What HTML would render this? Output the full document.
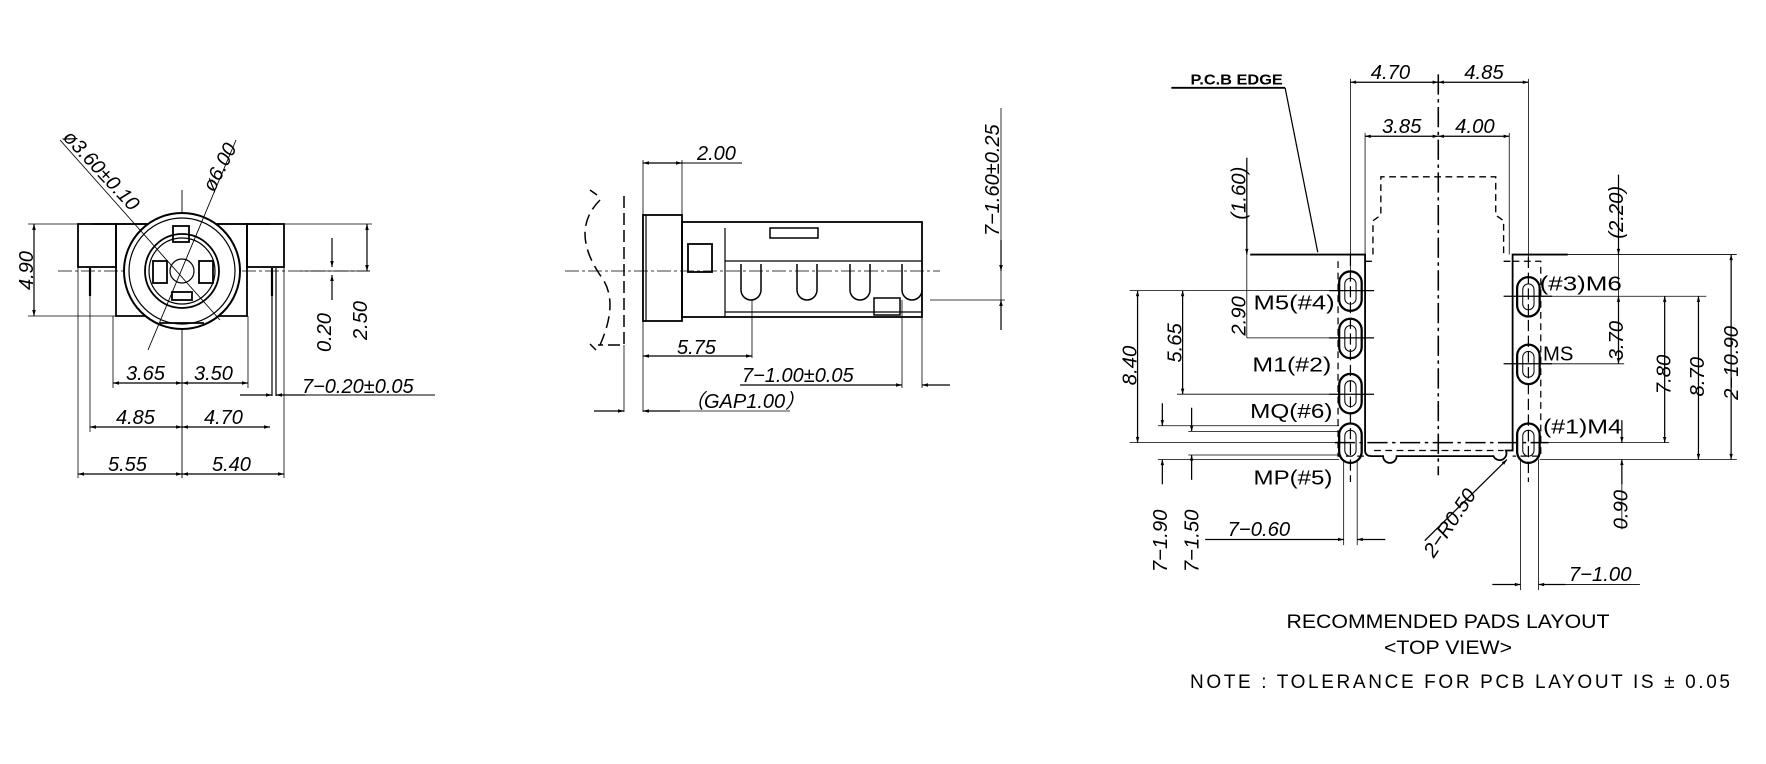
<!DOCTYPE html>
<html><head><meta charset="utf-8"><style>
html,body{margin:0;padding:0;background:#fff}
svg{display:block}
text{font-family:"Liberation Sans",sans-serif;fill:#000}
.d{font-style:italic;font-size:20px}
.l{font-size:20px}
.r{font-style:italic;font-size:18px}
.rl{font-size:18px}
</style></head><body>
<svg width="1766" height="764" viewBox="0 0 1766 764" xmlns="http://www.w3.org/2000/svg">
<defs>
<marker id="a" viewBox="0 0 10 10" refX="10" refY="5" markerWidth="12" markerHeight="6" orient="auto-start-reverse" markerUnits="userSpaceOnUse"><path d="M0,2 L10,5 L0,8 z" fill="#000"/></marker>
<marker id="b" viewBox="0 0 10 10" refX="10" refY="5" markerWidth="11" markerHeight="5" orient="auto-start-reverse" markerUnits="userSpaceOnUse"><path d="M0,2 L10,5 L0,8 z" fill="#000"/></marker>
</defs>
<g stroke="#000" fill="none" stroke-width="1.2">
<!-- ===== LEFT VIEW ===== -->
<line x1="58" y1="271" x2="370" y2="271" stroke-dasharray="14,3,3,3" stroke-width="0.8"/>
<line x1="182" y1="190" x2="182" y2="478" stroke-width="0.9"/>
<rect x="78" y="224" width="38" height="43" stroke-width="1.8"/>
<rect x="247" y="224" width="37" height="43" stroke-width="1.8"/>
<path d="M116,224 L116,316 L247,316 L247,224 Z" stroke-width="1.8"/>
<path d="M93,224 L270,224" stroke-width="1.5"/>
<circle cx="182" cy="271" r="58" stroke-width="2" fill="#fff"/>
<circle cx="182" cy="271" r="53" stroke-width="1.2"/>
<line x1="160" y1="323" x2="204" y2="323" stroke-width="1.8"/>
<circle cx="182" cy="271" r="37" stroke-width="1.8"/>
<circle cx="182" cy="271" r="33" stroke-width="1.2"/>
<circle cx="182" cy="271" r="12" stroke-width="1.2"/>
<rect x="153" y="261" width="14" height="22" stroke-width="1.8"/>
<rect x="199" y="261" width="14" height="22" stroke-width="1.8"/>
<rect x="173" y="226" width="16" height="16" stroke-width="1.8"/>
<rect x="172" y="292" width="20" height="8" stroke-width="1.8"/>
<line x1="90" y1="268" x2="90" y2="296" stroke-width="2.2"/>
<line x1="272" y1="268" x2="272" y2="296" stroke-width="2.2"/>
<line x1="272" y1="296" x2="272" y2="396" stroke-width="1.2"/>
<line x1="276" y1="268" x2="276" y2="396" stroke-width="1.2"/>
<line x1="60" y1="140" x2="220" y2="320" stroke-width="0.9"/>
<line x1="236" y1="140" x2="148" y2="350" stroke-width="0.9"/>
<line x1="34" y1="224" x2="34" y2="316" marker-start="url(#a)" marker-end="url(#a)"/>
<line x1="28" y1="224" x2="78" y2="224" stroke-width="0.8"/>
<line x1="28" y1="316" x2="116" y2="316" stroke-width="0.8"/>
<line x1="284" y1="224" x2="372" y2="224" stroke-width="0.8"/>
<line x1="300" y1="271" x2="370" y2="271" stroke-width="0.8"/>
<line x1="332" y1="238" x2="332" y2="267" marker-end="url(#a)"/>
<line x1="332" y1="275" x2="332" y2="300" marker-start="url(#a)"/>
<line x1="367" y1="224" x2="367" y2="271" marker-start="url(#a)" marker-end="url(#a)"/>
<line x1="113" y1="316" x2="113" y2="388" stroke-width="0.8"/>
<line x1="248" y1="316" x2="248" y2="388" stroke-width="0.8"/>
<line x1="113" y1="383" x2="182" y2="383" marker-start="url(#a)" marker-end="url(#a)"/>
<line x1="182" y1="383" x2="248" y2="383" marker-start="url(#a)" marker-end="url(#a)"/>
<line x1="90" y1="296" x2="90" y2="432" stroke-width="0.8"/>
<line x1="90" y1="427" x2="182" y2="427" marker-start="url(#a)" marker-end="url(#a)"/>
<line x1="182" y1="427" x2="270" y2="427" marker-start="url(#a)" marker-end="url(#a)"/>
<line x1="78" y1="267" x2="78" y2="478" stroke-width="0.8"/>
<line x1="284" y1="267" x2="284" y2="478" stroke-width="0.8"/>
<line x1="78" y1="474" x2="182" y2="474" marker-start="url(#a)" marker-end="url(#a)"/>
<line x1="182" y1="474" x2="284" y2="474" marker-start="url(#a)" marker-end="url(#a)"/>
<line x1="240" y1="395" x2="272" y2="395" marker-end="url(#a)"/>
<line x1="305" y1="395" x2="276" y2="395" marker-end="url(#a)"/>
<line x1="305" y1="395" x2="435" y2="395" stroke-width="0.9"/>

<!-- ===== MIDDLE VIEW ===== -->
<line x1="565" y1="271" x2="940" y2="271" stroke-dasharray="14,3,3,3" stroke-width="0.8"/>
<path d="M590,190 L597,195 M624,196 L624,345 L598,345 M590,344 L596,350" stroke-dasharray="12,5" stroke-width="1.5"/>
<path d="M600,200 Q570,230 600,275 Q620,300 600,345" stroke-dasharray="12,6" stroke-width="1.5"/>
<rect x="643" y="215" width="39" height="106" stroke-width="1.8"/>
<line x1="646" y1="215" x2="646" y2="321"/>
<rect x="682" y="222" width="240" height="95" stroke-width="1.8"/>
<line x1="725" y1="228" x2="725" y2="317"/>
<line x1="725" y1="261" x2="922" y2="261"/>
<line x1="725" y1="312" x2="922" y2="312"/>
<rect x="688" y="244" width="24" height="28" stroke-width="1.8"/>
<rect x="770" y="228" width="48" height="10" stroke-width="1.5"/>
<path d="M741,264 v26 a10,10 0 0 0 20,0 v-26 M797,264 v26 a10,10 0 0 0 20,0 v-26 M850,264 v26 a10,10 0 0 0 20,0 v-26 M902,264 v26 a10,10 0 0 0 20,0" stroke-width="1.5"/>
<rect x="874" y="298" width="26" height="17" stroke-width="1.5"/>
<line x1="643" y1="160" x2="643" y2="412" stroke-width="0.8"/>
<line x1="682" y1="160" x2="682" y2="215" stroke-width="0.8"/>
<line x1="643" y1="163" x2="682" y2="163" marker-start="url(#a)" marker-end="url(#a)"/>
<line x1="682" y1="163" x2="742" y2="163" stroke-width="0.9"/>
<line x1="752" y1="300" x2="752" y2="358" stroke-width="0.8"/>
<line x1="643" y1="356" x2="752" y2="356" marker-start="url(#a)" marker-end="url(#a)"/>
<line x1="902" y1="300" x2="902" y2="388" stroke-width="0.8"/>
<line x1="922" y1="300" x2="922" y2="388" stroke-width="0.8"/>
<line x1="740" y1="385" x2="902" y2="385" marker-end="url(#a)"/>
<line x1="950" y1="385" x2="922" y2="385" marker-end="url(#a)"/>
<line x1="624" y1="345" x2="624" y2="412" stroke-width="0.8"/>
<line x1="594" y1="411" x2="624" y2="411" marker-end="url(#a)"/>
<line x1="680" y1="411" x2="643" y2="411" marker-end="url(#a)"/>
<line x1="643" y1="411" x2="790" y2="411" stroke-width="0.8"/>
<line x1="930" y1="300" x2="1005" y2="300" stroke-width="0.8"/>
<line x1="1001" y1="108" x2="1001" y2="300" stroke-width="0.8"/>
<line x1="1001" y1="240" x2="1001" y2="271" marker-end="url(#a)"/>
<line x1="1001" y1="330" x2="1001" y2="300" marker-end="url(#a)"/>
</g>

<!-- TEXT left view -->
<text class="d" transform="translate(62,138) rotate(47)">ø3.60±0.10</text>
<text class="d" transform="translate(214,193) rotate(-63)">ø6.00</text>
<text class="d" transform="translate(33,290) rotate(-90)">4.90</text>
<text class="d" transform="translate(331,352) rotate(-90)">0.20</text>
<text class="d" transform="translate(367,340) rotate(-90)">2.50</text>
<text class="d" x="126" y="380">3.65</text>
<text class="d" x="194" y="380">3.50</text>
<text class="d" x="302" y="393">7−0.20±0.05</text>
<text class="d" x="116" y="424">4.85</text>
<text class="d" x="204" y="424">4.70</text>
<text class="d" x="108" y="471">5.55</text>
<text class="d" x="212" y="471">5.40</text>
<!-- TEXT middle -->
<text class="d" x="697" y="160">2.00</text>
<text class="d" transform="translate(999,236) rotate(-90)">7−1.60±0.25</text>
<text class="d" x="677" y="354">5.75</text>
<text class="d" x="742" y="382">7−1.00±0.05</text>
<text class="d" x="684" y="408">（GAP1.00）</text>

<!-- ===== RIGHT VIEW (drawn in 0.888 display units) ===== -->
<g transform="scale(1.1263)">
<g stroke="#000" fill="none" stroke-width="1.1">
<line x1="1277" y1="66" x2="1277" y2="422" stroke-dasharray="18,4,3,4" stroke-width="1.4"/>
<path d="M1110,226 L1212,226 L1212,400 Q1212,405 1218,405 L1228,405 a6,6 0 0 0 12,0 L1326,405 a6,6 0 0 0 11,-5 L1343,400 L1343,226 L1392,226" stroke-width="1.6"/>
<path d="M1219,226 L1219,196 L1226,191 L1226,157 L1328,157 L1328,191 L1335,196 L1335,226 M1212,232 L1219,232 M1335,232 L1343,232" stroke-dasharray="6,4" stroke-width="1.2"/>
<path d="M1188,232 L1188,405 L1212,405 M1220,400 L1335,400 M1343,232 L1368,232 L1368,405 L1343,405" stroke-dasharray="6,4" stroke-width="1.1"/>
<line x1="1185" y1="393" x2="1375" y2="393" stroke-dasharray="18,4,3,4" stroke-width="1.4"/>
<g stroke-width="2">
<rect x="1189" y="241" width="20" height="35" rx="10"/><rect x="1194" y="247" width="10" height="23" rx="5" stroke-width="0.9"/>
<rect x="1189" y="283" width="20" height="35" rx="10"/><rect x="1194" y="289" width="10" height="23" rx="5" stroke-width="0.9"/>
<rect x="1189" y="332" width="20" height="35" rx="10"/><rect x="1194" y="338" width="10" height="23" rx="5" stroke-width="0.9"/>
<rect x="1189" y="376" width="20" height="35" rx="10"/><rect x="1194" y="382" width="10" height="23" rx="5" stroke-width="0.9"/>
<rect x="1347" y="246" width="20" height="35" rx="10"/><rect x="1352" y="252" width="10" height="23" rx="5" stroke-width="0.9"/>
<rect x="1347" y="306" width="20" height="35" rx="10"/><rect x="1352" y="312" width="10" height="23" rx="5" stroke-width="0.9"/>
<rect x="1347" y="376" width="20" height="35" rx="10"/><rect x="1352" y="382" width="10" height="23" rx="5" stroke-width="0.9"/>
</g>
<line x1="1199" y1="226" x2="1199" y2="428" stroke-dasharray="10,4"/>
<line x1="1357" y1="228" x2="1357" y2="428" stroke-dasharray="10,4"/>
<line x1="1180" y1="258" x2="1220" y2="258"/><line x1="1180" y1="300" x2="1220" y2="300"/>
<line x1="1180" y1="350" x2="1220" y2="350"/>
<line x1="1335" y1="263" x2="1378" y2="263"/><line x1="1335" y1="323" x2="1378" y2="323"/>
<!-- PCB edge leader -->
<line x1="1040" y1="78" x2="1141" y2="78" stroke-width="1.7"/>
<line x1="1141" y1="78" x2="1170" y2="224"/>
<!-- top dims -->
<line x1="1199" y1="70" x2="1199" y2="241" stroke-width="0.7"/>
<line x1="1357" y1="70" x2="1357" y2="228" stroke-width="0.7"/>
<line x1="1199" y1="73" x2="1277" y2="73" marker-start="url(#b)" marker-end="url(#b)"/>
<line x1="1277" y1="73" x2="1357" y2="73" marker-start="url(#b)" marker-end="url(#b)"/>
<line x1="1212" y1="118" x2="1212" y2="226" stroke-width="0.7"/>
<line x1="1340" y1="118" x2="1340" y2="226" stroke-width="0.7"/>
<line x1="1212" y1="121" x2="1277" y2="121" marker-start="url(#b)" marker-end="url(#b)"/>
<line x1="1277" y1="121" x2="1340" y2="121" marker-start="url(#b)" marker-end="url(#b)"/>
<!-- left dims -->
<line x1="1107" y1="140" x2="1107" y2="226" marker-end="url(#b)"/>
<line x1="1107" y1="226" x2="1107" y2="300" stroke-width="0.7"/>
<line x1="1107" y1="300" x2="1180" y2="300" stroke-width="0.7"/>
<line x1="1003" y1="258" x2="1180" y2="258" stroke-width="0.7"/>
<line x1="1045" y1="350" x2="1180" y2="350" stroke-width="0.7"/>
<line x1="1003" y1="393" x2="1185" y2="393" stroke-width="0.7"/>
<line x1="1010" y1="258" x2="1010" y2="393" marker-start="url(#b)" marker-end="url(#b)"/>
<line x1="1050" y1="258" x2="1050" y2="350" marker-start="url(#b)" marker-end="url(#b)"/>
<line x1="1028" y1="378" x2="1189" y2="378" stroke-width="0.7"/>
<line x1="1028" y1="408" x2="1189" y2="408" stroke-width="0.7"/>
<line x1="1055" y1="383" x2="1189" y2="383" stroke-width="0.7"/>
<line x1="1055" y1="404" x2="1189" y2="404" stroke-width="0.7"/>
<line x1="1032" y1="358" x2="1032" y2="378" marker-end="url(#b)"/>
<line x1="1032" y1="430" x2="1032" y2="408" marker-end="url(#b)"/>
<line x1="1058" y1="362" x2="1058" y2="383" marker-end="url(#b)"/>
<line x1="1058" y1="426" x2="1058" y2="404" marker-end="url(#b)"/>
<line x1="1193" y1="408" x2="1193" y2="484" stroke-width="0.7"/>
<line x1="1205" y1="408" x2="1205" y2="484" stroke-width="0.7"/>
<line x1="1070" y1="479" x2="1193" y2="479" marker-end="url(#b)"/>
<line x1="1230" y1="479" x2="1205" y2="479" marker-end="url(#b)"/>
<line x1="1265" y1="480" x2="1338" y2="408" marker-end="url(#b)"/>
<!-- right dims -->
<line x1="1437" y1="155" x2="1437" y2="226" marker-end="url(#b)"/>
<line x1="1392" y1="226" x2="1542" y2="226" stroke-width="0.7"/>
<line x1="1437" y1="226" x2="1437" y2="263" stroke-width="0.7"/>
<line x1="1367" y1="263" x2="1515" y2="263" stroke-width="0.7"/>
<line x1="1367" y1="323" x2="1442" y2="323" stroke-width="0.7"/>
<line x1="1437" y1="263" x2="1437" y2="323" marker-start="url(#b)" marker-end="url(#b)"/>
<line x1="1375" y1="393" x2="1482" y2="393" stroke-width="0.7"/>
<line x1="1367" y1="408" x2="1542" y2="408" stroke-width="0.7"/>
<line x1="1478" y1="263" x2="1478" y2="393" marker-start="url(#b)" marker-end="url(#b)"/>
<line x1="1508" y1="263" x2="1508" y2="408" marker-start="url(#b)" marker-end="url(#b)"/>
<line x1="1537" y1="226" x2="1537" y2="408" marker-start="url(#b)" marker-end="url(#b)"/>
<line x1="1440" y1="373" x2="1440" y2="393" marker-end="url(#b)"/>
<line x1="1440" y1="430" x2="1440" y2="408" marker-end="url(#b)"/>
<line x1="1440" y1="408" x2="1440" y2="470" stroke-width="0.7"/>
<line x1="1350" y1="408" x2="1350" y2="524" stroke-width="0.7"/>
<line x1="1366" y1="408" x2="1366" y2="524" stroke-width="0.7"/>
<line x1="1325" y1="519" x2="1350" y2="519" marker-end="url(#b)"/>
<line x1="1390" y1="519" x2="1366" y2="519" marker-end="url(#b)"/>
<line x1="1390" y1="519" x2="1456" y2="519" stroke-width="0.7"/>
</g>
<text x="1057" y="75" style="font-size:13px;font-weight:bold" textLength="82" lengthAdjust="spacingAndGlyphs">P.C.B EDGE</text>
<text class="r" x="1217" y="70">4.70</text>
<text class="r" x="1300" y="70">4.85</text>
<text class="r" x="1227" y="118">3.85</text>
<text class="r" x="1292" y="118">4.00</text>
<text class="r" transform="translate(1106,195) rotate(-90)">(1.60)</text>
<text class="r" transform="translate(1106,298) rotate(-90)">2.90</text>
<text class="r" transform="translate(1009,342) rotate(-90)">8.40</text>
<text class="r" transform="translate(1049,322) rotate(-90)">5.65</text>
<text class="r" transform="translate(1036,508) rotate(-90)">7−1.90</text>
<text class="r" transform="translate(1064,508) rotate(-90)">7−1.50</text>
<text class="r" x="1090" y="476">7−0.60</text>
<text class="r" transform="translate(1273,496) rotate(-56)">2−R0.50</text>
<text class="r" transform="translate(1441,212) rotate(-90)">(2.20)</text>
<text class="r" transform="translate(1441,320) rotate(-90)">3.70</text>
<text class="r" transform="translate(1483,350) rotate(-90)">7.80</text>
<text class="r" transform="translate(1513,352) rotate(-90)">8.70</text>
<text class="r" transform="translate(1543,355) rotate(-90)">2−10.90</text>
<text class="r" transform="translate(1445,470) rotate(-90)">0.90</text>
<text class="r" x="1393" y="516">7−1.00</text>
<text class="rl" x="1113" y="275" textLength="72" lengthAdjust="spacingAndGlyphs">M5(#4)</text>
<text class="rl" x="1112" y="330" textLength="70" lengthAdjust="spacingAndGlyphs">M1(#2)</text>
<text class="rl" x="1110" y="371" textLength="73" lengthAdjust="spacingAndGlyphs">MQ(#6)</text>
<text class="rl" x="1113" y="430" textLength="70" lengthAdjust="spacingAndGlyphs">MP(#5)</text>
<text class="rl" x="1367" y="258" textLength="73" lengthAdjust="spacingAndGlyphs">(#3)M6</text>
<text class="rl" x="1370" y="320">MS</text>
<text class="rl" x="1370" y="385" textLength="70" lengthAdjust="spacingAndGlyphs">(#1)M4</text>
</g>

<text x="1448" y="628" text-anchor="middle" style="font-size:19px" textLength="323" lengthAdjust="spacingAndGlyphs">RECOMMENDED PADS LAYOUT</text>
<text x="1448" y="654" text-anchor="middle" style="font-size:19px" textLength="128" lengthAdjust="spacingAndGlyphs">&lt;TOP VIEW&gt;</text>
<text x="1190" y="688" style="font-size:19px" textLength="540" lengthAdjust="spacing">NOTE : TOLERANCE FOR PCB LAYOUT IS ± 0.05</text>
</svg>
</body></html>
